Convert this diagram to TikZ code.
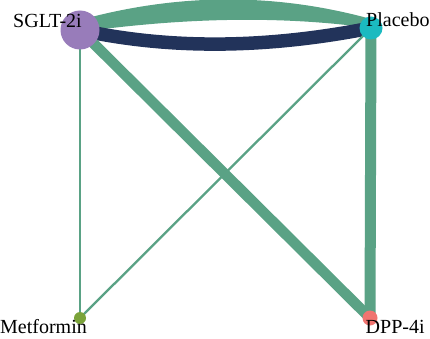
\documentclass[tikz,border=0pt]{standalone}
\usepackage{fontspec}
\setmainfont{Liberation Serif}
\usetikzlibrary{backgrounds}
\definecolor{edgegreen}{RGB}{90,162,133}
\definecolor{edgenavy}{RGB}{34,51,90}
\definecolor{cpurple}{RGB}{152,124,186}
\definecolor{ccyan}{RGB}{27,186,192}
\definecolor{cgreen}{RGB}{123,163,58}
\definecolor{cred}{RGB}{240,116,112}
\tikzset{
  dot/.style={circle, inner sep=0pt, draw=none},
  lbl/.style={anchor=base west, inner sep=0pt, font=\fontsize{20}{24}\selectfont, text=black},
  edge/.style={draw=edgegreen, line cap=butt}
}
\begin{document}
\begin{tikzpicture}[x=1pt,y=1pt]
\useasboundingbox (0,0) rectangle (430,338);
% nodes
\node[dot, fill=cpurple, minimum size=39pt] (S) at (80,308) {};
\node[dot, fill=ccyan, minimum size=23pt] (P) at (371,310) {};
\node[dot, fill=cgreen, minimum size=12pt] (M) at (80,20) {};
\node[dot, fill=cred, minimum size=15pt] (D) at (370,20) {};
% edges
\begin{pgfonlayer}{background}
\fill[edgegreen] ([yshift=10pt]S.center) .. controls +(97,26.7) and +(-97,26.7) .. ([yshift=9pt]P.center)
   -- (P.center) .. controls +(-97,13.3) and +(97,13.3) .. ([yshift=-2pt]S.center) -- cycle;
\draw[draw=edgenavy, line width=13.5pt] (S.center) .. controls +(97,-21) and +(-97,-19) .. (P.center);
\draw[edge, line width=10.5pt] (S.center) -- (D.center);
\draw[edge, line width=11pt] (P.center) -- (D.center);
\draw[edge, line width=2.3pt] (S.center) -- (M.center);
\draw[edge, line width=2.3pt] (P.center) -- (M.center);
\end{pgfonlayer}
% labels
\node[lbl] (lS) at (13,310) {SGLT-2i};
\node[lbl] (lP) at (366,311) {Placebo};
\node[lbl] (lM) at (0,5) {Metformin};
\node[lbl] (lD) at (365.5,5) {DPP-4i};
\end{tikzpicture}
\end{document}
